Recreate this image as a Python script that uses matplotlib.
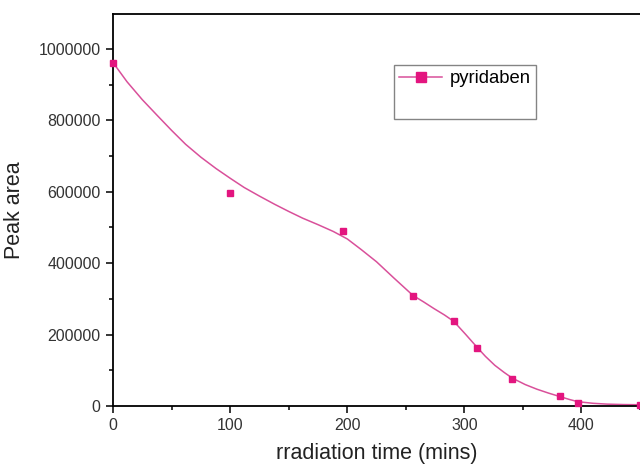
import numpy as np
import matplotlib.pyplot as plt
from matplotlib.ticker import MultipleLocator
from matplotlib.lines import Line2D

# measured points (irradiation time in mins, peak area)
time_mins = [0, 100, 196, 256, 291, 311, 341, 382, 397, 450]
peak_area = [961000, 596000, 491000, 308000, 239000, 162000, 77000, 28000, 7500, 4000]

# smoothed curve
fit_time = [0, 12, 25, 38, 50, 62, 75, 88, 100, 112, 125, 138, 150, 162, 175,
            188, 200, 212, 225, 240, 256, 265, 274, 283, 291, 301, 311, 318,
            326, 334, 341, 352, 362, 372, 382, 390, 397, 410, 422, 436, 450]
fit_area = [962000, 908000, 858000, 813000, 772000, 733000, 697000, 665000, 638000,
            612000, 588000, 565000, 545000, 526000, 508000, 489000, 468000, 438000,
            404000, 358000, 310000, 292000, 273000, 255000, 237000, 201000, 164000,
            139000, 114000, 94000, 78000, 60000, 47000, 36000, 26000, 18000, 12000,
            7500, 5200, 4000, 3500]

plt.rcParams['font.family'] = ['Liberation Sans', 'DejaVu Sans']

fig = plt.figure(figsize=(6.4, 4.65), dpi=100)
ax = fig.add_axes([0.1766, 0.1269, 0.8234, 0.843])

ax.plot(fit_time, fit_area, color='#d9509a', lw=1.1, zorder=2,
        solid_joinstyle='round')
ax.plot(time_mins, peak_area, ls='none', marker='s', ms=5, color='#e3157f',
        zorder=3, clip_on=False)

ax.set_xlim(0, 450)
ax.set_ylim(0, 1098000)
ax.xaxis.set_major_locator(MultipleLocator(100))
ax.xaxis.set_minor_locator(MultipleLocator(50))
ax.yaxis.set_major_locator(MultipleLocator(200000))
ax.yaxis.set_minor_locator(MultipleLocator(100000))
ax.ticklabel_format(style='plain', axis='y')

ax.tick_params(which='major', direction='out', length=5, width=1.1,
               labelsize=11.5, labelcolor='#333333', pad=4)
ax.tick_params(which='minor', direction='out', length=3, width=1.1)
ax.spines['right'].set_visible(False)
for s in ['top', 'left', 'bottom']:
    ax.spines[s].set_linewidth(1.3)

ax.set_xlabel('rradiation time (mins)', fontsize=15.5, color='#222222', labelpad=7)
ax.set_ylabel('Peak area', fontsize=15.5, color='#222222', labelpad=10)

h1 = Line2D([], [], color='#d9509a', lw=1.1, marker='s', ms=7,
            markerfacecolor='#e3157f', markeredgecolor='#e3157f')
h2 = Line2D([], [], color='none')
leg = ax.legend([h1, h2], ['pyridaben', ' '], loc='upper left',
                bbox_to_anchor=(0.533, 0.87), borderaxespad=0, fontsize=13.3,
                fancybox=False, handlelength=2.3, handletextpad=0.4,
                borderpad=0.3, labelspacing=0.5, frameon=True)
leg.get_frame().set_edgecolor('#666666')
leg.get_frame().set_linewidth(1.0)

fig.savefig('out.png', dpi=100)
